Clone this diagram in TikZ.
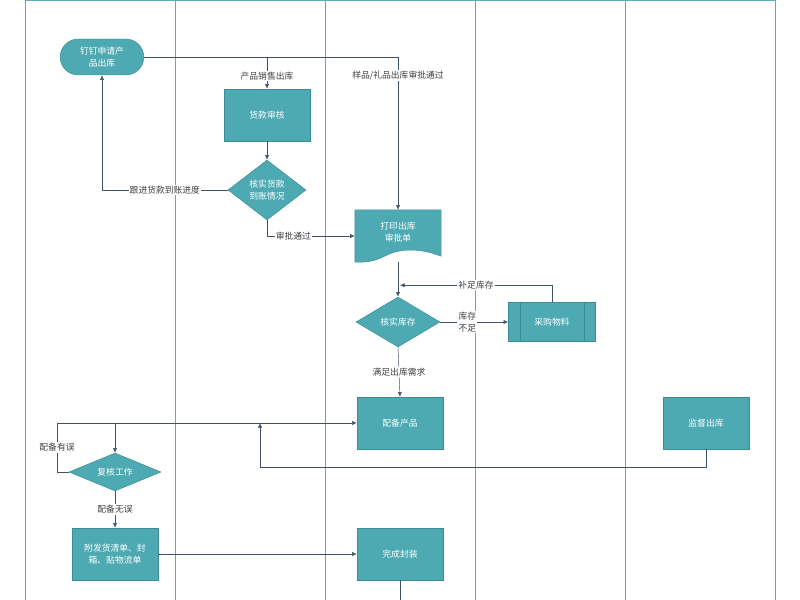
\documentclass[tikz,border=0pt]{standalone}
\usepackage{fontspec}
\setmainfont{Noto Sans CJK SC}
\usepackage{tikz}
\usetikzlibrary{shapes,calc,positioning,arrows.meta}
\definecolor{boxfill}{HTML}{4EAAB2}
\definecolor{boxline}{HTML}{3C8C94}
\definecolor{laneline}{HTML}{5DAAB1}
\definecolor{flowline}{HTML}{3F5266}

\begin{document}
\begin{tikzpicture}[x=0.03cm, y=-0.03cm,
      every node/.append style={font=\fontsize{7.5}{10}\selectfont, align=center},
      box/.style={draw=boxline, fill=boxfill, text=white, minimum width=2.58cm, minimum height=1.56cm, inner sep=1pt},
      dec/.style={diamond, draw=boxline, fill=boxfill, text=white, inner sep=0pt, aspect=1.5},
      lbl/.style={fill=white, inner sep=1pt, text=black!75},
      flow/.style={draw=flowline, -{Latex[length=4pt,width=3.5pt]}},
      plain/.style={draw=flowline}]
    \useasboundingbox (0,0) rectangle (800,600);
    % lanes
    \foreach \x in {25,175,325,475,625,775}
      \draw[laneline, line width=0.8pt] (\x,0) -- (\x,600);
    \draw[laneline, line width=2.5pt] (25,0) -- (775,0);
    % nodes
    \node (apply) [draw=boxline, fill=boxfill, text=white, rounded rectangle, minimum width=2.58cm, minimum height=1.08cm, inner sep=1pt] at (102,57) {钉钉申请产\\品出库};
    \node (audit) [box] at (267,115) {货款审核};
    \node (check) [dec, minimum width=2.34cm, minimum height=1.8cm] at (267,190) {核实货款\\到账情况};
    \node (print) [box, draw=none, fill=none] at (398,236) {};
    \fill[boxfill, draw=boxline] (print.north west) -- (print.north east) -- ($(print.south east)+(0,-6)$)
      .. controls (420,248) and (400,248) .. (385,256) .. controls (372,263) and (362,262) .. (print.south west) -- cycle;
    \node (printtxt) [text=white] at (398,232) {打印出库\\审批单};
    \node (stock) [dec, minimum width=2.52cm, minimum height=1.5cm] at (398,322) {核实库存};
    \node (buy) [box, minimum width=2.61cm, minimum height=1.17cm] at (552,322) {采购物料};
    \draw[boxline] ($(buy.north west)+(12,0)$) -- ($(buy.south west)+(12,0)$)
      ($(buy.north east)+(-12,0)$) -- ($(buy.south east)+(-12,0)$);
    \node (prep) [box] at (400,423) {配备产品};
    \node (watch) [box] at (706,423) {监督出库};
    \node (recheck) [dec, minimum width=2.76cm, minimum height=1.14cm, aspect=2.4] at (115,472) {复核工作};
    \node (pack) [box] at (115,554) {附发货清单、封\\箱、贴物流单};
    \node (done) [box] at (400,554) {完成封装};
    \coordinate (split) at (267,57);
    \coordinate (join) at (115,423);
    \coordinate (back) at (260,423);
    \coordinate (bottom) at (400,600);
    % connectors
    \draw[flow] (apply.east) -| node[lbl, pos=0.56] {样品/礼品出库审批通过} (print.north);
    \draw[flow] (split) -- node[lbl, pos=0.6] {产品销售出库} (audit.north);
    \draw[flow] (audit) -- (check);
    \draw[flow] (check.west) -| node[lbl, pos=0.25] {跟进货款到账进度} (apply.south);
    \draw[flow] (check.south) |- node[lbl, pos=0.65] {审批通过} (print.west);
    \draw[flow] (print.south) -- (stock.north);
    \draw[flow] (buy.north) |- node[lbl, pos=0.75] {补足库存} ($(print.south)+(2,23)$);
    \draw[flow] (stock.east) -- node[lbl, pos=0.4] {库存\\不足} (buy.west);
    \draw[flow] (stock.south) -- node[lbl] {满足出库需求} (prep.north);
    \draw[flow] (recheck.west) -| node[lbl, pos=0.75] {配备有误} (57,423) -- (prep.west);
    \draw[flow] (join) -- (recheck.north);
    \draw[flow] (watch.south) |- (260,467) -- (back);
    \draw[flow] (recheck.south) -- node[lbl] {配备无误} (pack.north);
    \draw[flow] (pack) -- (done);
    \draw[plain] (done.south) -- (bottom);
\end{tikzpicture}
\end{document}
